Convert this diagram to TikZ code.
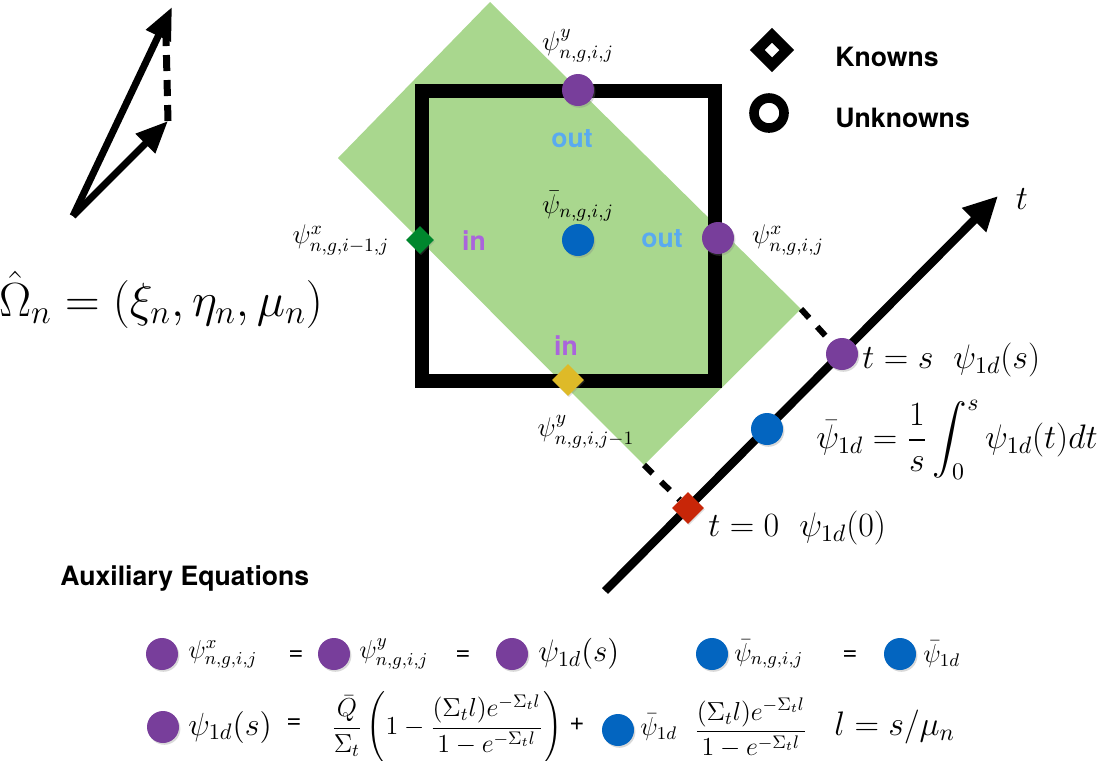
\RequirePackage{fix-cm}
\documentclass[tikz,border=0pt]{standalone}
\usepackage{amsmath}
\usepackage{fontspec}
\newfontfamily\hv{TeX Gyre Heros}
\usetikzlibrary{shapes.geometric,arrows.meta,shadows}
\definecolor{mgreen}{RGB}{169,215,142}
\definecolor{mpurple}{RGB}{120,62,155}
\definecolor{mblue}{RGB}{3,101,192}
\definecolor{dkgreen}{RGB}{0,135,45}
\definecolor{myellow}{RGB}{222,186,40}
\definecolor{mred}{RGB}{200,38,8}
\definecolor{outblue}{RGB}{90,170,240}
\definecolor{inpurple}{RGB}{170,100,220}
\newcommand\fs[1]{\fontsize{#1}{#1}\selectfont}
\begin{document}
\begin{tikzpicture}[x=0.5pt,y=-0.5pt,
  dot/.style={circle,fill=#1,inner sep=0,minimum size=16pt,
    drop shadow={shadow xshift=0.7pt,shadow yshift=-0.9pt,opacity=0.3}},
  kdia/.style={diamond,aspect=1,fill=#1,inner sep=0,minimum width=16pt,minimum height=16pt,
    drop shadow={shadow xshift=0.5pt,shadow yshift=-0.7pt,opacity=0.25}},
  lbl/.style={inner sep=0},
  tag/.style={font=\hv\bfseries\fs{13.3},inner sep=0},
  dirarrow/.style={line width=3.5pt,-{Triangle[length=16pt,width=13pt]}},
  perp/.style={line width=3pt,dash pattern=on 6pt off 6pt},
  eqsign/.style={font=\hv\fs{13},inner sep=0},
]
\useasboundingbox (0,0) rectangle (1104,761);

% direction arrows
\coordinate (o) at (73,216);
\coordinate (a1) at (172,7);
\coordinate (a2) at (168,121);
\coordinate (a3) at (166,36);
\draw[dirarrow] (o) -- (a1);
\draw[dirarrow] (o) -- (a2);
\draw[line width=3.5pt,dash pattern=on 8pt off 4.5pt] (a2) -- (a3);
\node[lbl,font=\fs{24}] (om) at (161,300) {$\hat{\Omega}_n=(\xi_n,\eta_n,\mu_n)$};

% green beam
\coordinate (gT) at (490,2);
\coordinate (gR) at (801,309);
\coordinate (gB) at (644,465);
\coordinate (gL) at (338,158);
\fill[mgreen] (gT) -- (gR) -- (gB) -- (gL) -- cycle;

% cell
\draw[line width=7pt] (422,91) rectangle (715,381);

% legend
\node[diamond,aspect=1,draw,line width=5.2pt,minimum width=17pt,minimum height=17pt,inner sep=0] (lk) at (772,50) {};
\node[circle,draw,line width=4.8pt,minimum size=15pt,inner sep=0] (lu) at (769,113) {};
\node[tag,anchor=west] (tk) at (835,57) {Knowns};
\node[tag,anchor=west] (tu) at (835,118) {Unknowns};

% cell points
\node[dot=mpurple] (pt) at (578,90) {};
\node[dot=mblue] (pc) at (578,240) {};
\node[dot=mpurple] (pr) at (718,238) {};
\node[kdia=dkgreen,minimum width=14pt,minimum height=14pt] (pl) at (420,240) {};
\node[kdia=myellow] (pb) at (568,380) {};

\node[lbl,font=\fs{13.5}] (lpt) at (578,46) {$\psi^y_{n,g,i,j}$};
\node[lbl,font=\fs{13.5}] (lpc) at (578,206) {$\bar{\psi}_{n,g,i,j}$};
\node[lbl,font=\fs{13.5}] (lpl) at (341,240) {$\psi^x_{n,g,i-1,j}$};
\node[lbl,font=\fs{13.5}] (lpr) at (788,240) {$\psi^x_{n,g,i,j}$};
\node[lbl,font=\fs{13.5}] (lpb) at (586,432) {$\psi^y_{n,g,i,j-1}$};

\node[tag,text=outblue] (o1) at (572,139) {out};
\node[tag,text=outblue] (o2) at (662,239) {out};
\node[tag,text=inpurple] (i1) at (474,241) {in};
\node[tag,text=inpurple] (i2) at (566,346) {in};

% t axis
\coordinate (tb) at (605,591);
\coordinate (tt) at (998,196);
\draw[line width=4.2pt,-{Triangle[length=17pt,width=16pt]}] (tb) -- (tt);
\node[lbl,font=\fs{17}] (tl) at (1022,199) {$t$};
\node[dot=mpurple] (ts) at (842,354) {};
\node[dot=mblue] (tm) at (767,429) {};
\node[kdia=mred] (t0) at (688,508) {};
\draw[perp] (gR) -- (ts);
\draw[perp] (gB) -- (t0);

\node[lbl,font=\fs{17},anchor=west] (lts) at (862,360) {$t=s$\hspace{10pt}$\psi_{1d}(s)$};
\node[lbl,font=\fs{17},anchor=west] (ltm) at (816,440) {$\displaystyle\bar{\psi}_{1d}=\frac{1}{s}\int_0^s\psi_{1d}(t)dt$};
\node[lbl,font=\fs{17},anchor=west] (lt0) at (708,528) {$t=0$\hspace{10pt}$\psi_{1d}(0)$};

% auxiliary equations
\node[tag,anchor=west] (aux) at (60,578) {Auxiliary Equations};

\node[dot=mpurple] (e1a) at (162,654) {};
\node[lbl,font=\fs{13},anchor=west] (e1at) at (188,654) {$\psi^x_{n,g,i,j}$};
\node[eqsign] (q1) at (296,656) {=};
\node[dot=mpurple] (e1b) at (334,654) {};
\node[lbl,font=\fs{13},anchor=west] (e1bt) at (359,654) {$\psi^y_{n,g,i,j}$};
\node[eqsign] (q2) at (463,656) {=};
\node[dot=mpurple] (e1c) at (512,654) {};
\node[lbl,font=\fs{15.5},anchor=west] (e1ct) at (538,654) {$\psi_{1d}(s)$};
\node[dot=mblue] (e1d) at (712,654) {};
\node[lbl,font=\fs{13},anchor=west] (e1dt) at (734,654) {$\bar{\psi}_{n,g,i,j}$};
\node[eqsign] (q3) at (850,656) {=};
\node[dot=mblue] (e1e) at (900,654) {};
\node[lbl,font=\fs{13},anchor=west] (e1et) at (923,654) {$\bar{\psi}_{1d}$};

\node[dot=mpurple] (e2a) at (163,727) {};
\node[lbl,font=\fs{16},anchor=west] (e2at) at (188,727) {$\psi_{1d}(s)$};
\node[eqsign] (q4) at (294,724) {=};
\node[lbl,font=\fs{13},anchor=west] (e2bt) at (331,728) {$\displaystyle\frac{\bar{Q}}{\Sigma_t}\left(1-\frac{(\Sigma_t l)e^{-\Sigma_t l}}{1-e^{-\Sigma_t l}}\right)$};
\node[eqsign] (pl1) at (577,724) {+};
\node[dot=mblue] (e2c) at (618,730) {};
\node[lbl,font=\fs{13},anchor=west] (e2ct) at (640,727) {$\bar{\psi}_{1d}$};
\node[lbl,font=\fs{13},anchor=west] (e2dt) at (694,728) {$\displaystyle\frac{(\Sigma_t l)e^{-\Sigma_t l}}{1-e^{-\Sigma_t l}}$};
\node[lbl,font=\fs{17},anchor=west] (e2et) at (834,727) {$l=s/\mu_n$};
\end{tikzpicture}
\end{document}
